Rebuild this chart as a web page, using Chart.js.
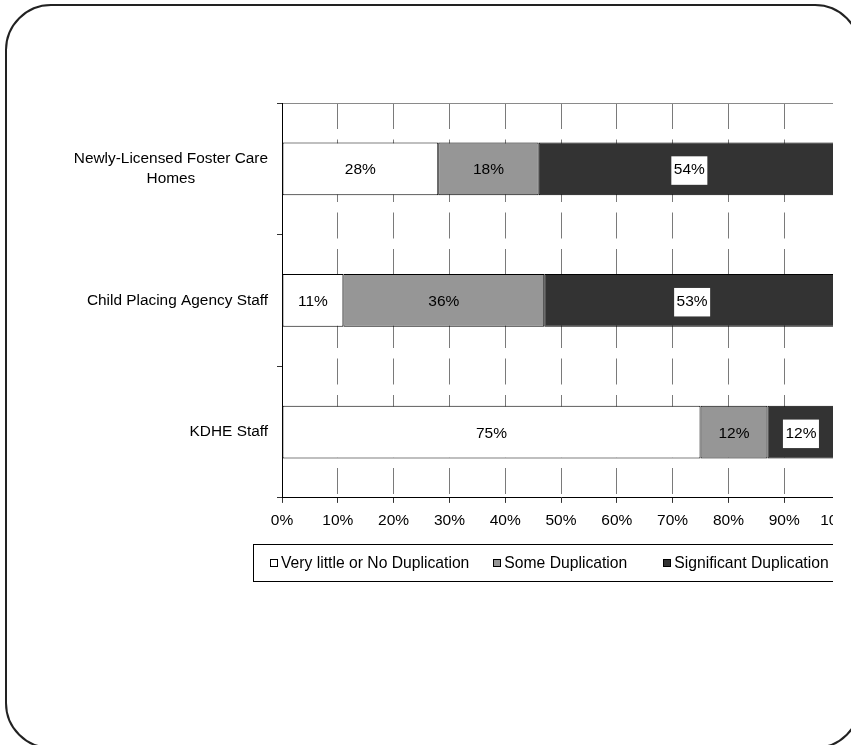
<!DOCTYPE html>
<html>
<head>
<meta charset="utf-8">
<script src="https://cdn.jsdelivr.net/npm/chart.js@4.4.1/dist/chart.umd.min.js"></script>
<style>
    html, body { margin: 0; padding: 0; background: #fff; overflow: hidden; }
    body { width: 851px; height: 745px; position: relative; font-family: 'Liberation Sans', Arial, sans-serif; }
    #clip { position: absolute; left: 0; top: 0; width: 833px; height: 745px; overflow: hidden; }
    #frame { position: absolute; left: 5px; top: 4px; width: 856px; height: 745px; box-sizing: border-box;
             border: 2px solid #222; border-radius: 46px; pointer-events: none; }
    #legend { position: absolute; left: 253px; top: 544px; width: 640px; height: 38px; box-sizing: border-box;
              border: 1px solid #000; display: flex; align-items: center; padding-left: 16px;
              font-size: 15.7px; color: #000; white-space: nowrap; }
    .item { display: flex; align-items: center; margin-right: 24px; }
    .item:nth-child(2) { margin-right: 36px; }
    .swatch { width: 6px; height: 6px; border: 1px solid #000; margin-right: 3px; }
</style>
</head>
<body>
<div id="clip">
    <canvas id="chart" width="900" height="745"></canvas>
    <div id="legend"></div>
</div>
<div id="frame"></div>

<script>
// Chart data
const categories = [['Newly-Licensed Foster Care', 'Homes'], 'Child Placing Agency Staff', 'KDHE Staff'];
const seriesNames = ['Very little or No Duplication', 'Some Duplication', 'Significant Duplication'];
const littleOrNone = [28, 11, 75];
const someDup = [18, 36, 12];
const significantDup = [54, 53, 12];
const seriesColors = ['#ffffff', '#969696', '#333333'];

const FONT = "'Liberation Sans', Arial, sans-serif";
Chart.defaults.font.family = FONT;
Chart.defaults.font.size = 15.5;
Chart.defaults.color = '#000';

// Category labels: block right-aligned, lines centred (like Excel)
const categoryLabels = {
    id: 'categoryLabels',
    afterDraw(chart) {
        const { ctx, chartArea, scales: { y } } = chart;
        ctx.save();
        ctx.font = '15.4px ' + FONT;
        ctx.fillStyle = '#000';
        ctx.textAlign = 'center';
        ctx.textBaseline = 'middle';
        const right = chartArea.left - 14;
        categories.forEach((label, i) => {
            const lines = [].concat(label);
            const w = Math.max(...lines.map(l => ctx.measureText(l).width));
            const cx = right - w / 2;
            const cy = y.getPixelForValue(i);
            lines.forEach((line, j) => {
                ctx.fillText(line, cx, cy + (j - (lines.length - 1) / 2) * 20);
            });
        });
        ctx.restore();
    }
};

// Percent labels in each segment; white box on the dark series
const barLabels = {
    id: 'barLabels',
    afterDatasetsDraw(chart) {
        const { ctx } = chart;
        ctx.save();
        ctx.font = '15.5px ' + FONT;
        ctx.textAlign = 'center';
        ctx.textBaseline = 'middle';
        chart.data.datasets.forEach((ds, di) => {
            chart.getDatasetMeta(di).data.forEach((bar, i) => {
                const { x, base, y } = bar.getProps(['x', 'base', 'y'], true);
                const cx = (x + base) / 2;
                const text = ds.data[i] + '%';
                if (di === 2) {
                    const w = ctx.measureText(text).width + 5;
                    ctx.fillStyle = '#fff';
                    ctx.fillRect(cx - w / 2, y - 12.5, w, 28.5);
                }
                ctx.fillStyle = '#000';
                ctx.fillText(text, cx, y + 1.3);
            });
        });
        ctx.restore();
    }
};

const makeSet = (label, data, color) => ({
    label,
    data,
    backgroundColor: color,
    borderColor: '#000',
    borderWidth: 1,
    borderSkipped: false,
    barPercentage: 0.4,
    categoryPercentage: 1
});

const chart = new Chart(document.getElementById('chart'), {
    type: 'bar',
    data: {
        labels: categories,
        datasets: [
            makeSet(seriesNames[0], littleOrNone, seriesColors[0]),
            makeSet(seriesNames[1], someDup, seriesColors[1]),
            makeSet(seriesNames[2], significantDup, seriesColors[2])
        ]
    },
    options: {
        indexAxis: 'y',
        responsive: false,
        animation: false,
        layout: { padding: { left: 277, top: 103, right: 60, bottom: 205.5 } },
        plugins: { legend: { display: false }, tooltip: { enabled: false } },
        scales: {
            x: {
                stacked: true,
                min: 0,
                max: 100,
                ticks: { stepSize: 10, padding: 9, maxRotation: 0, callback: v => v + '%' },
                grid: { color: '#7a7a7a', tickColor: '#333', tickLength: 5 },
                border: { color: '#000', width: 1, dash: [26, 10.5] }
            },
            y: {
                stacked: true,
                ticks: { display: false },
                grid: {
                    offset: true,
                    color: ctx => ctx.index === 0 ? '#8a8a8a' : 'rgba(0,0,0,0)',
                    tickColor: '#333',
                    tickLength: 5
                },
                border: { color: '#000', width: 1 }
            }
        }
    },
    plugins: [barLabels, categoryLabels]
});

// HTML legend built from the datasets
const legend = document.getElementById('legend');
chart.data.datasets.forEach(ds => {
    const item = document.createElement('span');
    item.className = 'item';
    const sw = document.createElement('span');
    sw.className = 'swatch';
    sw.style.background = ds.backgroundColor;
    const txt = document.createElement('span');
    txt.textContent = ds.label;
    item.appendChild(sw);
    item.appendChild(txt);
    legend.appendChild(item);
});
</script>
</body>
</html>
